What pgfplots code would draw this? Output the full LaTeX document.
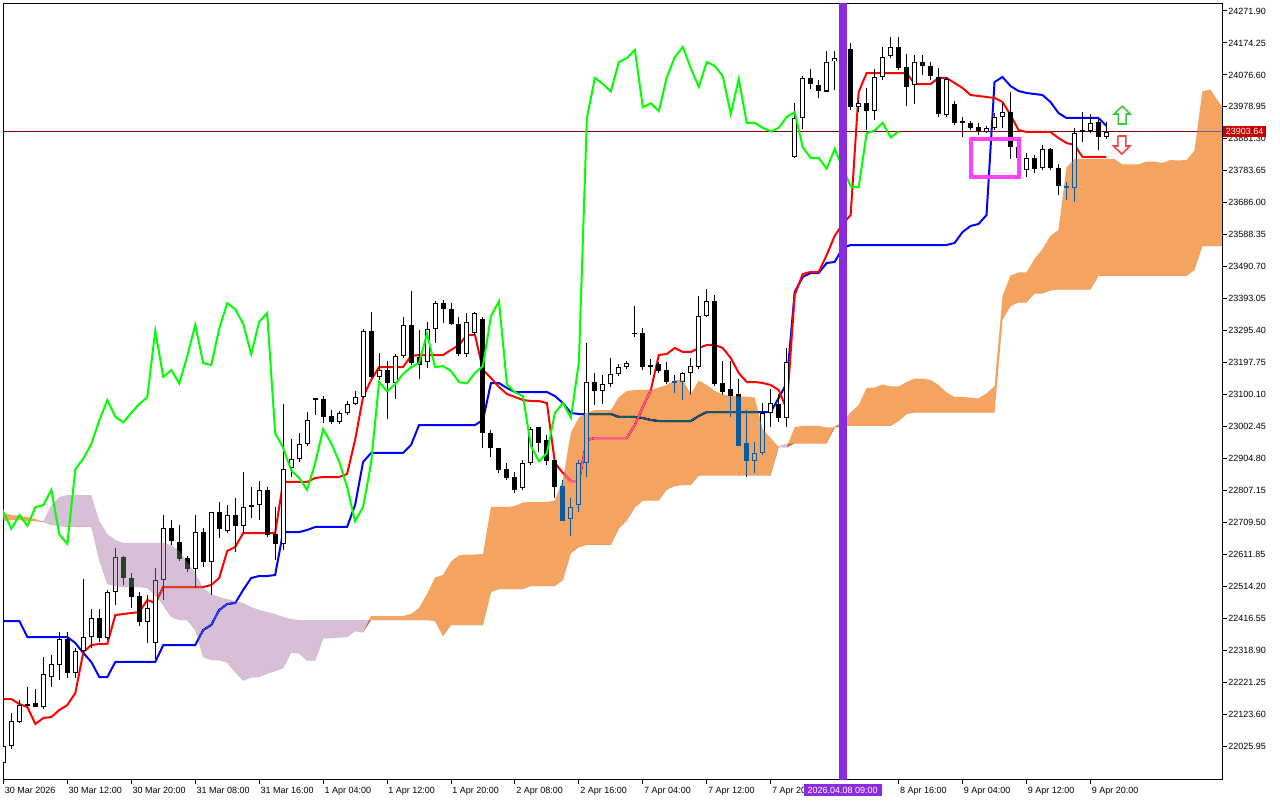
\documentclass[border=0pt]{standalone}
\usepackage{pgfplots}
\pgfplotsset{compat=1.18}
\usepackage{pgfplotstable}
\usepackage{fontspec}
\setmainfont{Liberation Sans}

\definecolor{cloudO}{RGB}{11,91,159}
\definecolor{cloudP}{RGB}{39,64,39}
\definecolor{vline}{RGB}{138,43,226}
\definecolor{pricel}{RGB}{128,0,0}
\definecolor{pinkbox}{RGB}{255,64,255}
\definecolor{lbl}{RGB}{200,0,0}
\definecolor{limeg}{RGB}{0,255,0}
\definecolor{tenk}{RGB}{255,0,0}
\definecolor{kij}{RGB}{0,0,255}

\pgfplotstableread{
i O H L C
0 21974 22025 21968 22025
1 22025 22127 22016 22103
2 22099 22166 22096 22153
3 22156 22207 22141 22150
4 22156 22201 22144 22144
5 22144 22299 22138 22246
6 22237 22305 22207 22276
7 22273 22374 22228 22353
8 22353 22374 22234 22249
9 22249 22326 22234 22317
10 22317 22537 22311 22359
11 22359 22445 22326 22418
12 22418 22445 22344 22356
13 22356 22502 22350 22496
14 22496 22630 22457 22603
15 22603 22606 22517 22540
16 22540 22555 22448 22481
17 22484 22496 22392 22404
18 22404 22487 22341 22448
19 22341 22570 22293 22534
20 22534 22732 22472 22693
21 22693 22717 22641 22651
22 22651 22702 22591 22597
23 22600 22606 22558 22567
24 22567 22732 22508 22681
25 22681 22693 22573 22588
26 22588 22741 22487 22741
27 22741 22771 22663 22690
28 22684 22762 22678 22732
29 22732 22785 22618 22699
30 22699 22863 22678 22756
31 22756 22818 22723 22762
32 22762 22836 22717 22809
33 22809 22818 22666 22672
34 22675 22756 22594 22644
35 22644 23071 22624 22872
36 22875 22964 22848 22904
37 22904 22982 22893 22949
38 22949 23047 22943 23021
39 23089 23089 23038 23083
40 23086 23095 23012 23032
41 23035 23053 23009 23015
42 23015 23050 23009 23044
43 23044 23080 23038 23071
44 23071 23110 23068 23092
45 23092 23301 23089 23295
46 23295 23352 23151 23154
47 23154 23226 23145 23175
48 23175 23202 23026 23134
49 23134 23223 23086 23217
50 23217 23337 23211 23313
51 23313 23415 23190 23196
52 23214 23298 23148 23190
53 23199 23322 23181 23301
54 23301 23385 23257 23379
55 23379 23388 23319 23361
56 23361 23379 23313 23316
57 23316 23337 23217 23224
58 23224 23349 23214 23322
59 23289 23352 23283 23349
60 23331 23337 22937 22982
61 22982 22991 22910 22937
62 22937 22937 22860 22869
63 22872 22890 22839 22845
64 22848 22863 22800 22809
65 22815 22900 22809 22890
66 22890 23000 22884 22994
67 23000 23000 22925 22952
68 22961 22976 22884 22896
69 22899 22899 22785 22818
70 22821 22839 22713 22713
71 22719 22785 22669 22756
72 22762 22900 22741 22890
73 22890 23257 22848 23138
74 23138 23166 23068 23110
75 23110 23160 23071 23131
76 23131 23211 23122 23163
77 23163 23193 23157 23184
78 23184 23202 23178 23196
79 23289 23370 23277 23286
80 23289 23304 23175 23184
81 23190 23208 23160 23187
82 23193 23199 23166 23172
83 23175 23199 23131 23138
84 23140 23160 23104 23134
85 23137 23169 23083 23166
86 23166 23211 23098 23187
87 23184 23400 23178 23340
88 23340 23424 23337 23385
89 23385 23403 23125 23131
90 23134 23202 23098 23107
91 23116 23202 23032 23095
92 23101 23148 22943 22943
93 22952 23053 22848 22896
94 22896 22955 22860 22921
95 22921 23074 22916 23044
96 23044 23116 23000 23074
97 23071 23101 23015 23029
98 23029 23241 23000 23199
99 23826 23990 23823 23945
100 23945 24073 23912 24067
101 24067 24094 24034 24049
102 24046 24061 24005 24026
103 24026 24150 24023 24116
104 24119 24150 24030 24128
105 24128 24168 24116 24153
106 24156 24174 23969 23978
107 23978 23996 23963 23990
108 23990 24036 23907 23966
109 23966 24094 23939 24070
110 24070 24162 24061 24131
111 24134 24192 24128 24162
112 24162 24192 24091 24097
113 24100 24140 23981 24040
114 24046 24137 23987 24116
115 24116 24137 24076 24104
116 24104 24116 24061 24073
117 24070 24097 23948 23957
118 23954 24070 23948 24064
119 23987 23996 23924 23930
120 23936 23948 23886 23930
121 23930 23936 23909 23915
122 23918 23930 23892 23904
123 23904 23921 23898 23915
124 23915 23960 23909 23948
125 23948 23990 23915 23963
126 23963 24023 23820 23856
127 23856 23877 23802 23823
128 23787 23838 23766 23823
129 23823 23832 23778 23790
130 23793 23862 23787 23850
131 23850 23853 23787 23793
132 23793 23805 23709 23736
133 23736 23748 23694 23733
134 23730 23915 23688 23898
135 23904 23963 23871 23907
136 23904 23957 23898 23930
137 23933 23942 23847 23886
138 23886 23933 23880 23903.64
}\candles

\pgfplotstableread{
i T K
0 22169.7 22408.0
1 22169.7 22408.0
2 22154.4 22408.0
3 22145.2 22359.1
4 22093.3 22359.1
5 22111.7 22359.1
6 22114.7 22359.1
7 22136.1 22359.1
8 22151.3 22359.1
9 22188.0 22340.8
10 22313.3 22310.2
11 22334.7 22282.8
12 22337.8 22236.9
13 22337.8 22236.9
14 22426.3 22282.8
15 22429.4 22282.8
16 22432.4 22282.8
17 22435.5 22282.8
18 22472.2 22282.8
19 22463.0 22282.8
20 22511.9 22334.7
21 22511.9 22334.7
22 22511.9 22334.7
23 22511.9 22334.7
24 22511.9 22334.7
25 22511.9 22380.5
26 22518.0 22395.8
27 22539.5 22441.6
28 22621.9 22460.0
29 22634.1 22463.0
30 22676.9 22502.8
31 22676.9 22539.5
32 22676.9 22545.5
33 22676.9 22545.5
34 22676.9 22548.6
35 22832.8 22680.0
36 22832.8 22680.0
37 22832.8 22680.0
38 22832.8 22686.1
39 22845.0 22695.3
40 22848.0 22695.3
41 22848.0 22695.3
42 22848.0 22695.3
43 22857.2 22695.3
44 22961.1 22762.5
45 23092.5 22893.9
46 23144.4 22921.4
47 23184.1 22921.4
48 23184.1 22921.4
49 23184.1 22921.4
50 23184.1 22921.4
51 23217.7 22945.8
52 23220.8 23006.9
53 23220.8 23006.9
54 23220.8 23006.9
55 23220.8 23006.9
56 23236.1 23006.9
57 23251.4 23006.9
58 23281.9 23006.9
59 23281.9 23006.9
60 23175.0 23022.2
61 23150.5 23135.2
62 23123.0 23135.2
63 23101.6 23120.0
64 23092.5 23107.7
65 23083.3 23107.7
66 23080.2 23107.7
67 23080.2 23107.7
68 23074.1 23107.7
69 22890.8 23095.5
70 22860.3 23074.1
71 22835.8 23043.6
72 22835.8 23040.5
73 22961.1 23040.5
74 22967.2 23040.5
75 22967.2 23040.5
76 22967.2 23040.5
77 22967.2 23031.4
78 22967.2 23031.4
79 23006.9 23031.4
80 23061.9 23028.3
81 23113.9 23022.2
82 23220.8 23019.1
83 23223.9 23019.1
84 23242.2 23019.1
85 23230.0 23019.1
86 23230.0 23019.1
87 23242.2 23034.4
88 23251.4 23046.6
89 23251.4 23046.6
90 23242.2 23046.6
91 23211.6 23046.6
92 23165.8 23046.6
93 23138.3 23046.6
94 23138.3 23046.6
95 23135.2 23046.6
96 23129.1 23046.6
97 23113.9 23089.4
98 23055.8 23135.2
99 23404.1 23413.3
100 23468.3 23459.1
101 23474.4 23471.3
102 23474.4 23471.3
103 23526.3 23501.9
104 23584.4 23505.0
105 23621.1 23547.7
106 23648.6 23556.9
107 24024.4 23556.9
108 24082.4 23556.9
109 24082.4 23556.9
110 24082.4 23556.9
111 24082.4 23556.9
112 24082.4 23556.9
113 24082.4 23556.9
114 24048.8 23556.9
115 24048.8 23556.9
116 24048.8 23556.9
117 24067.2 23556.9
118 24067.2 23556.9
119 24051.9 23563.0
120 24036.6 23596.6
121 24015.2 23615.0
122 24012.2 23621.1
123 24009.1 23648.6
124 24006.1 24054.9
125 23993.8 24070.2
126 23954.1 24042.7
127 23908.3 24027.4
128 23902.2 24021.3
129 23902.2 24018.3
130 23902.2 24015.2
131 23902.2 23993.8
132 23883.8 23960.2
133 23868.6 23945.0
134 23862.5 23945.0
135 23825.8 23945.0
136 23825.8 23945.0
137 23825.8 23945.0
138 23825.8 23920.5
}\lines

\pgfplotstableread{
i A B
0 22738.0 22713.6
1 22731.9 22716.6
2 22728.9 22716.6
3 22725.8 22713.6
4 22719.7 22713.6
5 22710.6 22713.6
6 22701.4 22762.5
7 22698.3 22786.9
8 22695.3 22793.0
9 22695.3 22793.0
10 22695.3 22793.0
11 22695.3 22793.0
12 22594.4 22713.6
13 22521.1 22673.9
14 22515.0 22655.5
15 22511.9 22646.4
16 22511.9 22646.4
17 22511.9 22646.4
18 22508.9 22646.4
19 22487.5 22646.4
20 22456.9 22646.4
21 22420.3 22640.3
22 22411.1 22621.9
23 22411.1 22588.3
24 22380.5 22554.7
25 22298.0 22508.9
26 22288.9 22490.5
27 22288.9 22481.4
28 22281.2 22475.3
29 22252.2 22469.1
30 22226.2 22463.0
31 22235.4 22450.8
32 22236.9 22441.6
33 22247.6 22435.5
34 22255.3 22429.4
35 22264.4 22420.3
36 22311.8 22414.1
37 22308.7 22411.1
38 22287.3 22411.1
39 22287.3 22411.1
40 22354.6 22411.1
41 22356.1 22411.1
42 22357.6 22411.1
43 22359.1 22411.1
44 22377.5 22411.1
45 22372.9 22411.1
46 22423.3 22411.1
47 22423.3 22411.1
48 22423.3 22411.1
49 22423.3 22411.1
50 22423.3 22411.1
51 22429.4 22411.1
52 22447.8 22411.1
53 22490.5 22411.1
54 22541.0 22408.0
55 22548.6 22362.2
56 22589.8 22395.8
57 22608.2 22395.8
58 22611.2 22395.8
59 22611.2 22395.8
60 22612.8 22395.8
61 22756.4 22496.6
62 22756.4 22505.8
63 22756.4 22505.8
64 22759.4 22505.8
65 22770.1 22505.8
66 22771.6 22515.0
67 22771.6 22515.0
68 22771.6 22515.0
69 22776.2 22515.0
70 22840.0 22533.3
71 22984.0 22615.8
72 23029.8 22634.1
73 23045.1 22640.3
74 23052.7 22640.3
75 23052.7 22640.3
76 23052.7 22640.3
77 23092.5 22690.7
78 23110.8 22715.1
79 23113.9 22754.8
80 23113.9 22776.2
81 23113.9 22776.2
82 23121.5 22776.2
83 23129.1 22809.8
84 23144.4 22820.5
85 23144.4 22823.6
86 23101.6 22823.6
87 23142.9 22852.6
88 23129.1 22852.6
89 23110.8 22852.6
90 23100.1 22852.6
91 23095.5 22852.6
92 23094.0 22852.6
93 23094.0 22852.6
94 23090.9 22852.6
95 22993.2 22852.6
96 22967.2 22852.6
97 22939.7 22942.7
98 22938.2 22950.4
99 23000.8 22950.4
100 23003.9 22950.4
101 23003.9 22950.4
102 23003.9 22950.4
103 22999.3 22950.4
104 22999.3 23003.9
105 23019.1 23003.9
106 23045.1 23003.9
107 23068.0 23003.9
108 23120.0 23003.9
109 23121.5 23003.9
110 23130.7 23003.9
111 23124.6 23003.9
112 23124.6 23019.1
113 23138.3 23040.5
114 23149.0 23045.1
115 23149.0 23045.1
116 23144.4 23045.1
117 23129.1 23045.1
118 23106.2 23045.1
119 23092.5 23045.1
120 23092.5 23045.1
121 23090.9 23045.1
122 23087.9 23045.1
123 23103.2 23045.1
124 23126.1 23045.1
125 23401.1 23329.3
126 23463.7 23370.5
127 23472.9 23381.2
128 23472.9 23381.2
129 23514.1 23408.7
130 23544.7 23408.7
131 23584.4 23417.9
132 23602.7 23420.9
133 23793.7 23420.9
134 23819.7 23420.9
135 23819.7 23420.9
136 23819.7 23420.9
137 23819.7 23462.2
138 23819.7 23462.2
139 23819.7 23462.2
140 23802.9 23462.2
141 23802.9 23462.2
142 23802.9 23462.2
143 23812.0 23462.2
144 23812.0 23462.2
145 23807.5 23462.2
146 23816.6 23462.2
147 23815.1 23462.2
148 23816.6 23462.2
149 23844.1 23480.5
150 24025.9 23553.8
151 24032.0 23553.8
152 23995.4 23553.8
153 23966.3 23553.8
}\cloud

\begin{document}
\begin{tikzpicture}[x=1pt,y=1pt]
\fill[white] (0,0) rectangle (640,400);
\path[use as bounding box] (0,0) rectangle (640,400);
\begin{axis}[
  at={(1.5pt,10.5pt)}, anchor=south west,
  scale only axis, width=609.5pt, height=388pt,
  xmin=-0.05, xmax=152.46, ymin=21925.3, ymax=24296.3,
  axis line style={line width=0.5pt, black},
  tick align=outside, major tick length=2.5pt,
  tick style={line width=0.5pt, black},
  xtick pos=bottom, ytick pos=right, yticklabel pos=right,
  xtick={0,8,16,24,32,40,48,56,64,72,80,88,96,112,120,128,136},
  xticklabels={30 Mar 2026,30 Mar 12:00,30 Mar 20:00,31 Mar 08:00,31 Mar 16:00,1 Apr 04:00,1 Apr 12:00,1 Apr 20:00,2 Apr 08:00,2 Apr 16:00,7 Apr 04:00,7 Apr 12:00,7 Apr 20:00,8 Apr 16:00,9 Apr 04:00,9 Apr 12:00,9 Apr 20:00},
  ytick={22025.95,22123.60,22221.25,22318.90,22416.55,22514.20,22611.85,22709.50,22807.15,22904.80,23002.45,23100.10,23197.75,23295.40,23393.05,23490.70,23588.35,23686.00,23783.65,23881.30,23978.95,24076.60,24174.25,24271.90},
  yticklabels={22025.95,22123.60,22221.25,22318.90,22416.55,22514.20,22611.85,22709.50,22807.15,22904.80,23002.45,23100.10,23197.75,23295.40,23393.05,23490.70,23588.35,23686.00,23783.65,23881.30,23978.95,24076.60,24174.25,24271.90},
  ticklabel style={font=\fontsize{4.5pt}{5pt}\selectfont, inner sep=0pt, text=black},
  xticklabel style={anchor=north west, xshift=0.5pt, yshift=-1.5pt},
  yticklabel style={anchor=west, xshift=0.5pt},
  clip=true,
]
% price line
\addplot[pricel, line width=0.5pt, forget plot] coordinates {(-1,23903.64) (160,23903.64)};
% tenkan / kijun
\addplot[kij, line width=1pt, forget plot] table[x=i, y=K] {\lines};
\addplot[tenk, line width=1pt, forget plot] table[x=i, y=T] {\lines};
% candle wicks
\addplot[draw=none, mark=none, forget plot,
  error bars/.cd, y dir=both, y explicit, error mark=none,
  error bar style={line width=0.5pt, draw=black, solid}]
  table[x=i, y expr={(\thisrow{H}+\thisrow{L})/2}, y error expr={(\thisrow{H}-\thisrow{L})/2}] {\candles};
% candle bodies (outline / bearish fill)
\addplot[draw=none, mark=none, forget plot,
  error bars/.cd, y dir=both, y explicit, error mark=none,
  error bar style={line width=2.5pt, draw=black, solid}]
  table[x=i, y expr={(\thisrow{O}+\thisrow{C})/2}, y error expr={max(abs(\thisrow{O}-\thisrow{C})/2,1.6)}] {\candles};
% bullish interior
\addplot[draw=none, mark=none, forget plot,
  x filter/.expression={\thisrow{C}-\thisrow{O}>6.2 ? x : nan},
  error bars/.cd, y dir=both, y explicit, error mark=none,
  error bar style={line width=1.5pt, draw=white, solid}]
  table[x=i, y expr={(\thisrow{O}+\thisrow{C})/2}, y error expr={(\thisrow{C}-\thisrow{O})/2-3.06}] {\candles};
% cloud (stacked areas, drawn in difference mode)
\addplot[draw=none, fill=none, forget plot, stack plots=y] table[x=i, y expr={min(\thisrow{A},\thisrow{B})}] {\cloud};
\addplot[draw=none, fill=cloudO, blend mode=difference, forget plot, stack plots=y] table[x=i, y expr={\thisrow{A}-min(\thisrow{A},\thisrow{B})}] {\cloud} \closedcycle;
\addplot[draw=none, fill=none, forget plot, stack plots=y] table[x=i, y expr={min(\thisrow{A},\thisrow{B})-\thisrow{A}}] {\cloud};
\addplot[draw=none, fill=cloudP, blend mode=difference, forget plot, stack plots=y] table[x=i, y expr={\thisrow{B}-min(\thisrow{A},\thisrow{B})}] {\cloud} \closedcycle;
% chikou
\addplot[limeg, line width=1pt, forget plot, restrict x to domain=-1:200] table[x expr=\thisrow{i}-26, y=C] {\candles};
% vertical time line
\addplot[vline, line width=4pt, forget plot] coordinates {(105,21900) (105,24320)};
% marked box
\addplot[pinkbox, line width=2pt, line cap=rect, line join=miter, forget plot] coordinates {(121.0,23879.9) (127.05,23879.9) (127.05,23763.8) (121.0,23763.8) (121.0,23879.9)};
% arrows
\addplot[draw={rgb,255:red,60;green,200;blue,60}, line width=0.8pt, line join=miter, forget plot] coordinates {(140.0,23981.6) (140.96,23957.2) (140.46,23957.2) (140.46,23926.6) (139.5,23926.6) (139.5,23957.2) (138.96,23957.2) (140.0,23981.6)};
\addplot[draw={rgb,255:red,240;green,70;blue,70}, line width=0.8pt, line join=miter, forget plot] coordinates {(139.43,23890.0) (140.43,23890.0) (140.43,23859.4) (140.96,23859.4) (139.93,23835.0) (138.88,23859.4) (139.43,23859.4) (139.43,23890.0)};
\coordinate (pl) at (axis cs:152.46,23903.64);
\coordinate (dl) at (axis cs:105,21925.3);
\end{axis}
\node[fill=lbl, text=white, anchor=west, inner xsep=1.2pt, inner ysep=1.1pt, font=\fontsize{4.5pt}{5pt}\selectfont] at ([xshift=0.5pt]pl) {23903.64};
\node[fill=vline, text=white, anchor=north, inner xsep=2pt, inner ysep=1.3pt, font=\fontsize{4.5pt}{5pt}\selectfont] at ([yshift=-2.5pt]dl) {2026.04.08 09:00};
\end{tikzpicture}
\end{document}
